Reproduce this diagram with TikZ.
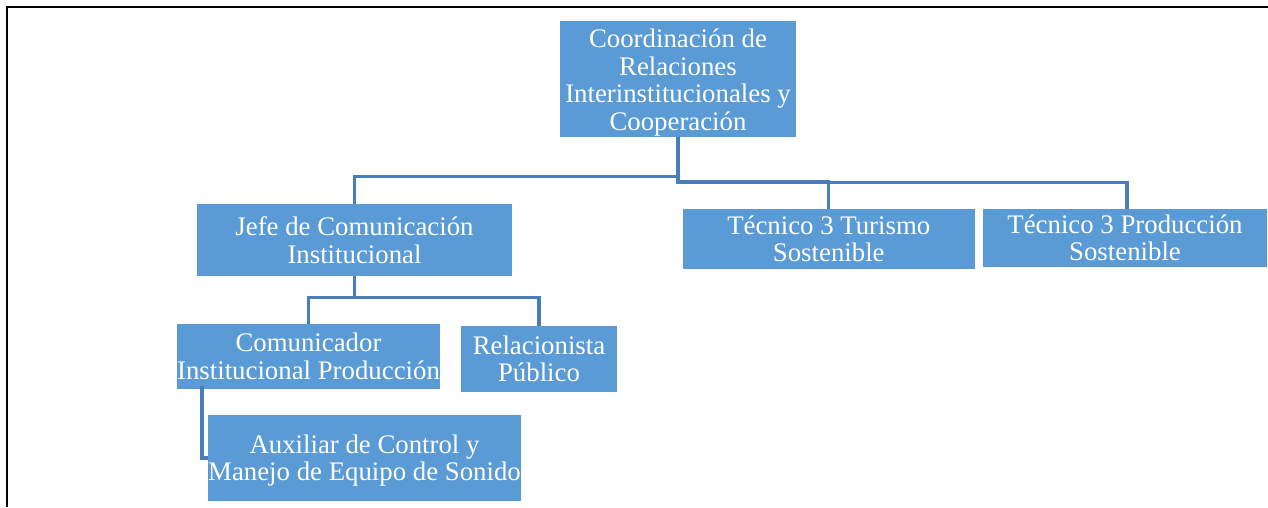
\documentclass[tikz,border=0pt]{standalone}
\usepackage{fontspec}
\setmainfont{Liberation Serif}
\definecolor{boxblue}{HTML}{5B9BD5}
\definecolor{linkblue}{HTML}{4A7EBB}
\begin{document}
\begin{tikzpicture}[x=1pt,y=-1pt,
  orgbox/.style={fill=boxblue,text=white,inner sep=0pt,align=center,
    font=\fontsize{26.8}{27.5}\selectfont},
  conn/.style={draw=linkblue,line width=3.2pt},
  frame/.style={draw=black,line width=2pt}]
\useasboundingbox (0,0) rectangle (1268,507);
\coordinate (fa) at (6.5,507);
\coordinate (fb) at (6.5,6.5);
\coordinate (fc) at (1268,6.5);
\draw[frame] (fa) -- (fb) -- (fc);

\node[orgbox,minimum width=236pt,minimum height=116pt] (top) at (678,79)
  {\rule{0pt}{25.5pt}Coordinación de\\Relaciones\\Interinstitucionales y\\Cooperación};
\node[orgbox,minimum width=315pt,minimum height=72pt] (jefe) at (354.5,240)
  {Jefe de Comunicación\\Institucional};
\node[orgbox,minimum width=291.5pt,minimum height=60pt] (tur) at (828.75,239)
  {Técnico 3 Turismo\\Sostenible};
\node[orgbox,minimum width=284pt,minimum height=58pt] (prod) at (1125,238)
  {Técnico 3 Producción\\Sostenible};
\node[orgbox,minimum width=263pt,minimum height=65pt] (com) at (308.5,356.5)
  {Comunicador\\Institucional Producción};
\node[orgbox,minimum width=156pt,minimum height=66pt] (rel) at (539,359)
  {Relacionista\\Público};
\node[orgbox,minimum width=311pt,minimum height=86pt] (aux) at (364.5,458)
  {\rule{0pt}{23.5pt}Auxiliar de Control y\\Manejo de Equipo de Sonido};

\draw[conn] (jefe.north) -- ++(0,-27) -| (top.south);
\draw[conn] (tur.north) -- ++(0,-27) -| (top.south);
\draw[conn] ([xshift=2pt]prod.north) -- ++(0,-26) -| (top.south);
\draw[conn] (com.north) -- ++(0,-26) -| (jefe.south);
\draw[conn] (rel.north) -- ++(0,-28) -| (jefe.south);
\draw[conn] ([xshift=-106.5pt,yshift=3pt]com.south) |- (aux.west);
\end{tikzpicture}
\end{document}
